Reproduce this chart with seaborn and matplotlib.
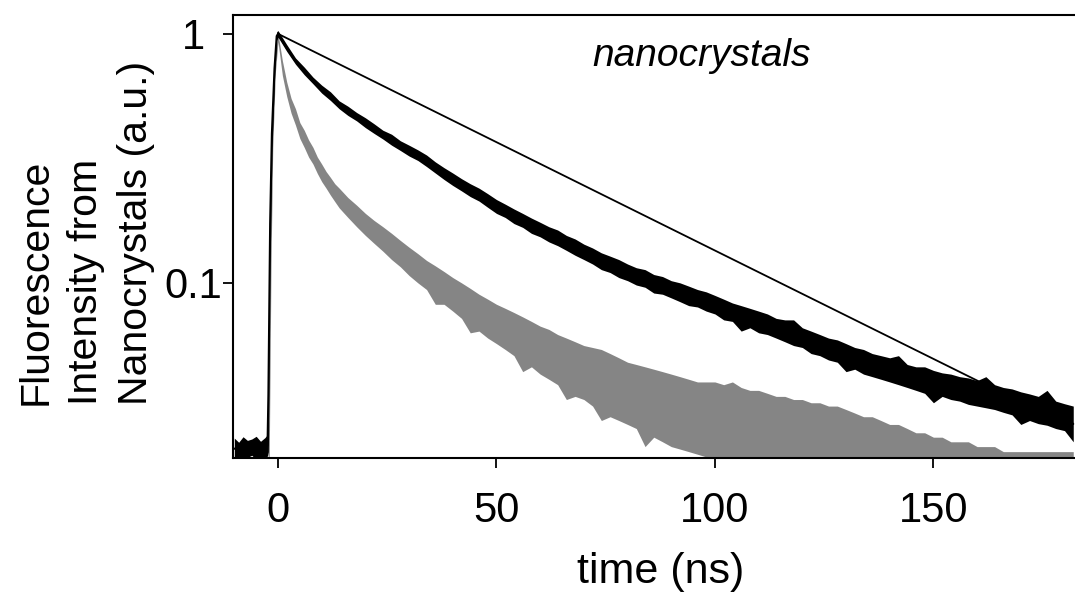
import pandas as pd
import matplotlib
matplotlib.use("Agg")
from matplotlib import pyplot as plt
import seaborn as sns

# ---- data (time in ns, intensity normalised) ----
# black trace: lower / upper edge of the noisy band
t_black = ([-10, -9, -8, -7, -6, -5, -4, -3, -2.4,
            -2.2, -1.8, -1.4, -0.8, -0.3] + list(range(0, 184, 2)))
black_lo = [0.0196, 0.0201, 0.0193, 0.0199, 0.0203, 0.0195, 0.0200, 0.0197, 0.0202,
            0.021, 0.12, 0.33, 0.66, 0.94,
            0.97, 0.85, 0.755, 0.685, 0.63, 0.578, 0.54, 0.50, 0.47, 0.447,
            0.42, 0.398, 0.378, 0.357, 0.34, 0.323, 0.31, 0.293, 0.276, 0.26,
            0.246, 0.234, 0.222, 0.213, 0.201, 0.19, 0.183, 0.173, 0.167, 0.158,
            0.153, 0.146, 0.141, 0.135, 0.129, 0.124, 0.119, 0.113, 0.11, 0.105,
            0.102, 0.098, 0.096, 0.091, 0.09, 0.087, 0.084, 0.081, 0.08, 0.077,
            0.075, 0.071, 0.07, 0.064, 0.066, 0.063, 0.062, 0.06, 0.058, 0.056,
            0.055, 0.052, 0.051, 0.049, 0.048, 0.044, 0.045, 0.043, 0.042, 0.041,
            0.04, 0.039, 0.038, 0.037, 0.036, 0.033, 0.035, 0.034, 0.0335, 0.0325,
            0.032, 0.0315, 0.031, 0.0302, 0.0295, 0.027, 0.028, 0.0272, 0.0268, 0.026,
            0.0255, 0.023]
black_hi = [0.0238, 0.0229, 0.0241, 0.0233, 0.0236, 0.0242, 0.0231, 0.0239, 0.0246,
            0.06, 0.25, 0.48, 0.80, 1.02,
            1.03, 0.905, 0.80, 0.735, 0.67, 0.622, 0.585, 0.538, 0.512, 0.483,
            0.46, 0.435, 0.41, 0.395, 0.372, 0.357, 0.342, 0.326, 0.306, 0.29,
            0.276, 0.262, 0.25, 0.24, 0.228, 0.216, 0.207, 0.198, 0.19, 0.182,
            0.175, 0.168, 0.163, 0.155, 0.15, 0.143, 0.138, 0.132, 0.128, 0.124,
            0.119, 0.115, 0.113, 0.108, 0.106, 0.102, 0.1, 0.097, 0.094, 0.092,
            0.089, 0.086, 0.083, 0.081, 0.079, 0.077, 0.075, 0.072, 0.071, 0.071,
            0.066, 0.064, 0.062, 0.06, 0.059, 0.057, 0.055, 0.054, 0.052, 0.051,
            0.05, 0.051, 0.047, 0.046, 0.046, 0.0445, 0.0435, 0.043, 0.042, 0.0415,
            0.0405, 0.042, 0.039, 0.038, 0.0375, 0.0365, 0.0358, 0.035, 0.037, 0.0335,
            0.0327, 0.032]

# gray trace (faster decay): lower / upper edge of the scattered cloud
t_gray = ([-10, -2.4, -2.0, -1.6, -1.2, -0.6] + list(range(0, 14))
          + list(range(14, 184, 2)))
gray_lo = [0.010, 0.010, 0.02, 0.12, 0.35, 0.70,
           0.93, 0.68, 0.56, 0.48, 0.43, 0.38, 0.35, 0.32, 0.30, 0.275, 0.255, 0.24, 0.225, 0.212,
           0.20, 0.183, 0.168, 0.155, 0.144, 0.134, 0.124, 0.116, 0.107, 0.100,
           0.094, 0.082, 0.082, 0.077, 0.072, 0.063, 0.064, 0.060, 0.057, 0.054,
           0.051, 0.044, 0.046, 0.043, 0.041, 0.039, 0.034, 0.035, 0.034, 0.032,
           0.028, 0.029, 0.028, 0.027, 0.026, 0.022, 0.024, 0.023, 0.022, 0.0215,
           0.021, 0.0205, 0.02, 0.0195, 0.019, 0.0188,
           0.018, 0.018, 0.018, 0.018, 0.018, 0.018, 0.018, 0.018, 0.018, 0.018,
           0.018, 0.018, 0.018, 0.018, 0.018, 0.018, 0.018, 0.018, 0.018, 0.018,
           0.018, 0.018, 0.018, 0.018, 0.018, 0.018, 0.018, 0.018, 0.018, 0.018,
           0.018, 0.018, 0.018, 0.018, 0.018, 0.018, 0.018, 0.018, 0.018]
gray_hi = [0.012, 0.012, 0.05, 0.25, 0.55, 0.85,
           1.0, 0.78, 0.64, 0.55, 0.50, 0.44, 0.41, 0.375, 0.35, 0.32, 0.30, 0.28, 0.265, 0.25,
           0.24, 0.22, 0.205, 0.19, 0.178, 0.168, 0.158, 0.148, 0.139, 0.131,
           0.123, 0.117, 0.111, 0.105, 0.1, 0.095, 0.09, 0.086, 0.082, 0.079,
           0.076, 0.073, 0.07, 0.067, 0.065, 0.062, 0.06, 0.058, 0.056, 0.055,
           0.054, 0.052, 0.05, 0.048, 0.047, 0.046, 0.045, 0.044, 0.043, 0.042,
           0.041, 0.04, 0.04, 0.04, 0.039, 0.04, 0.038, 0.037, 0.037, 0.036,
           0.035, 0.035, 0.034, 0.034, 0.033, 0.033, 0.032, 0.032, 0.031, 0.03,
           0.029, 0.029, 0.028, 0.027, 0.027, 0.026, 0.025, 0.025, 0.024, 0.024,
           0.023, 0.023, 0.023, 0.022, 0.022, 0.022, 0.021, 0.021, 0.021, 0.021,
           0.021, 0.021, 0.021, 0.021, 0.021]

# single-exponential reference line (end points)
t_fit = [0, 175]
fit_vals = [1.0, 0.030]

y_ticks = [0.1, 1]
y_ticklabels = ["0.1", "1"]
x_ticks = [0, 50, 100, 150]

black_df = pd.DataFrame({"t": t_black + t_black, "I": black_lo + black_hi})
gray_df = pd.DataFrame({"t": t_gray + t_gray, "I": gray_lo + gray_hi})
fit_df = pd.DataFrame({"t": t_fit, "I": fit_vals})

sns.set_style("ticks")
plt.rcParams["font.family"] = ["Liberation Sans", "DejaVu Sans"]
plt.rcParams.update({"text.color": "black", "axes.labelcolor": "black",
                     "xtick.color": "black", "ytick.color": "black"})

fig = plt.figure(figsize=(10.75, 5.92), dpi=100)
ax = fig.add_axes([233 / 1075, 1 - 458 / 592, 1 - 233 / 1075, (458 - 15) / 592])
ax.set_yscale("log")

sns.lineplot(data=gray_df, x="t", y="I", ax=ax, color="0.47", linewidth=0,
             estimator="mean", errorbar=("pi", 100),
             err_kws={"alpha": 0.9, "linewidth": 0})
sns.lineplot(data=black_df, x="t", y="I", ax=ax, color="black", linewidth=1.5,
             estimator="mean", errorbar=("pi", 100),
             err_kws={"alpha": 1.0, "linewidth": 0})
sns.lineplot(data=fit_df, x="t", y="I", ax=ax, color="black", linewidth=1.3)

ax.set_xlim(-10.3, 182.4)
ax.set_ylim(0.0198, 1.19)
ax.set_xticks(x_ticks)
ax.set_yticks(y_ticks)
ax.set_yticklabels(y_ticklabels)
ax.yaxis.set_minor_locator(matplotlib.ticker.NullLocator())
ax.tick_params(axis="both", which="major", direction="out", length=7, width=1.3,
               labelsize=30, color="black", labelcolor="black")
ax.tick_params(axis="y", pad=21.5)
ax.tick_params(axis="x", pad=17)
for lbl in ax.get_yticklabels():
    lbl.set_horizontalalignment("center")
for side in ["left", "bottom", "top"]:
    ax.spines[side].set_visible(True)
    ax.spines[side].set_linewidth(1.5)
    ax.spines[side].set_color("black")
ax.spines["right"].set_visible(False)

ax.set_xlabel("time (ns)", fontsize=31)
ax.xaxis.set_label_coords(0.508, -0.213)
ax.set_ylabel("")
fig.text(86 / 1075, 1 - 405 / 592, "Fluorescence\nIntensity from\nNanocrystals (a.u.)",
         rotation=90, ha="center", va="bottom", multialignment="left",
         fontsize=29.5, linespacing=1.4)
ax.text(0.556, 0.885, "nanocrystals", transform=ax.transAxes, ha="center",
        va="baseline", fontsize=28, style="italic")

fig.savefig("out.png", dpi=100)
